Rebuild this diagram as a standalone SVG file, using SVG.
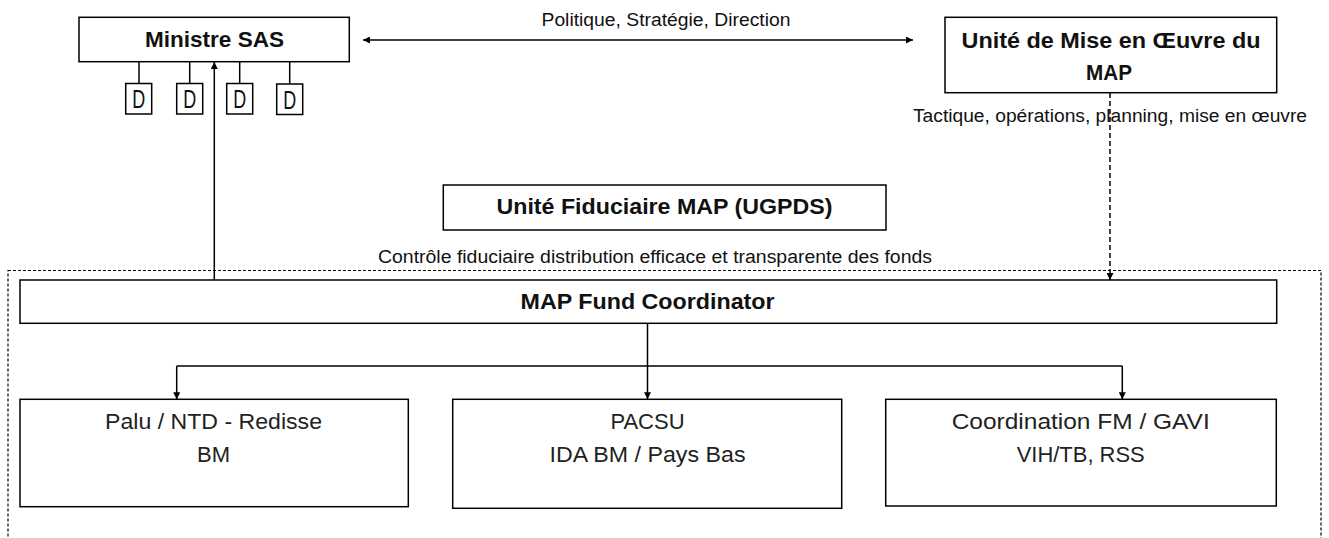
<svg xmlns="http://www.w3.org/2000/svg" width="1329" height="538" viewBox="0 0 1329 538">
<defs>
<style>
.box{fill:#fff;stroke:#000;stroke-width:1.5}
.ln{fill:none;stroke:#000;stroke-width:1.5}
.dash{fill:none;stroke:#000;stroke-width:1.5;stroke-dasharray:5 3}
.frame{fill:none;stroke:#000;stroke-width:1.2;stroke-dasharray:3 2}
.b{font-family:"Liberation Sans",Arial,sans-serif;font-weight:bold;font-size:22px;fill:#111;text-anchor:middle}
.r{font-family:"Liberation Sans",Arial,sans-serif;font-size:22px;fill:#222;text-anchor:middle}
.s{font-family:"Liberation Sans",Arial,sans-serif;font-size:18px;fill:#111;text-anchor:middle}
.d{font-family:"Liberation Sans",Arial,sans-serif;font-size:25px;fill:#111;text-anchor:middle}
</style>
<marker id="ah" viewBox="0 0 10 10" refX="10" refY="5" markerWidth="7" markerHeight="7" markerUnits="userSpaceOnUse" orient="auto-start-reverse">
<path d="M0,0 L10,5 L0,10 z" fill="#000"/>
</marker>
</defs>

<g id="frame">
<rect class="frame" x="8" y="270.5" width="1313" height="300"/>
</g>

<g id="connectors">
<line class="ln" x1="363" y1="40" x2="913" y2="40" marker-start="url(#ah)" marker-end="url(#ah)"/>
<line class="ln" x1="214.3" y1="280" x2="214.3" y2="62" marker-end="url(#ah)"/>
<line class="dash" x1="1110" y1="93" x2="1110" y2="280" marker-end="url(#ah)"/>
<line class="ln" x1="139" y1="61.7" x2="139" y2="83.5"/>
<line class="ln" x1="189.7" y1="61.7" x2="189.7" y2="83.5"/>
<line class="ln" x1="239.7" y1="61.7" x2="239.7" y2="83.5"/>
<line class="ln" x1="289.7" y1="61.7" x2="289.7" y2="83.5"/>
<line class="ln" x1="647.5" y1="323.3" x2="647.5" y2="399.3" marker-end="url(#ah)"/>
<line class="ln" x1="176.7" y1="366" x2="1122.3" y2="366"/>
<line class="ln" x1="176.7" y1="366" x2="176.7" y2="399.3" marker-end="url(#ah)"/>
<line class="ln" x1="1122.3" y1="366" x2="1122.3" y2="399.3" marker-end="url(#ah)"/>
</g>

<g id="labels">
<text class="s" x="666" y="26" textLength="249" lengthAdjust="spacingAndGlyphs">Politique, Stratégie, Direction</text>
<text class="s" x="1110" y="122" textLength="394" lengthAdjust="spacingAndGlyphs">Tactique, opérations, planning, mise en œuvre</text>
<text class="s" x="655" y="263" textLength="554" lengthAdjust="spacingAndGlyphs">Contrôle fiduciaire distribution efficace et transparente des fonds</text>
</g>

<g id="ministre">
<rect class="box" x="79" y="17.3" width="270.3" height="44.4"/>
<text class="b" x="214.5" y="47" textLength="139" lengthAdjust="spacingAndGlyphs">Ministre SAS</text>
</g>

<g id="d1"><rect class="box" x="125.7" y="83.5" width="26" height="30.5"/><text class="d" x="138.7" y="108" textLength="13" lengthAdjust="spacingAndGlyphs">D</text></g>
<g id="d2"><rect class="box" x="176.7" y="83.5" width="26" height="30.5"/><text class="d" x="189.7" y="108" textLength="13" lengthAdjust="spacingAndGlyphs">D</text></g>
<g id="d3"><rect class="box" x="226.7" y="83.5" width="26" height="30.5"/><text class="d" x="239.7" y="108" textLength="13" lengthAdjust="spacingAndGlyphs">D</text></g>
<g id="d4"><rect class="box" x="276.7" y="84" width="26" height="30.5"/><text class="d" x="289.7" y="108.5" textLength="13" lengthAdjust="spacingAndGlyphs">D</text></g>

<g id="umeo">
<rect class="box" x="945" y="17.3" width="331.7" height="75.4"/>
<text class="b" x="1111" y="48" textLength="299" lengthAdjust="spacingAndGlyphs">Unité de Mise en Œuvre du</text>
<text class="b" x="1109" y="80" textLength="46" lengthAdjust="spacingAndGlyphs">MAP</text>
</g>

<g id="ugpds">
<rect class="box" x="443.3" y="185" width="442.7" height="45"/>
<text class="b" x="664.5" y="214" textLength="336" lengthAdjust="spacingAndGlyphs">Unité Fiduciaire MAP (UGPDS)</text>
</g>

<g id="fund">
<rect class="box" x="20" y="280" width="1256.7" height="43.3"/>
<text class="b" x="647.6" y="309" textLength="254" lengthAdjust="spacingAndGlyphs">MAP Fund Coordinator</text>
</g>

<g id="palu">
<rect class="box" x="20" y="399.3" width="388.3" height="107.4"/>
<text class="r" x="213.5" y="429" textLength="217" lengthAdjust="spacingAndGlyphs">Palu / NTD - Redisse</text>
<text class="r" x="213.5" y="462">BM</text>
</g>

<g id="pacsu">
<rect class="box" x="452.7" y="399.3" width="389" height="109"/>
<text class="r" x="647.5" y="429">PACSU</text>
<text class="r" x="647.5" y="462" textLength="196" lengthAdjust="spacingAndGlyphs">IDA BM / Pays Bas</text>
</g>

<g id="coord">
<rect class="box" x="885.7" y="399.3" width="390.6" height="106.7"/>
<text class="r" x="1080.7" y="429" textLength="258" lengthAdjust="spacingAndGlyphs">Coordination FM / GAVI</text>
<text class="r" x="1080.7" y="462" textLength="128" lengthAdjust="spacingAndGlyphs">VIH/TB, RSS</text>
</g>
</svg>
